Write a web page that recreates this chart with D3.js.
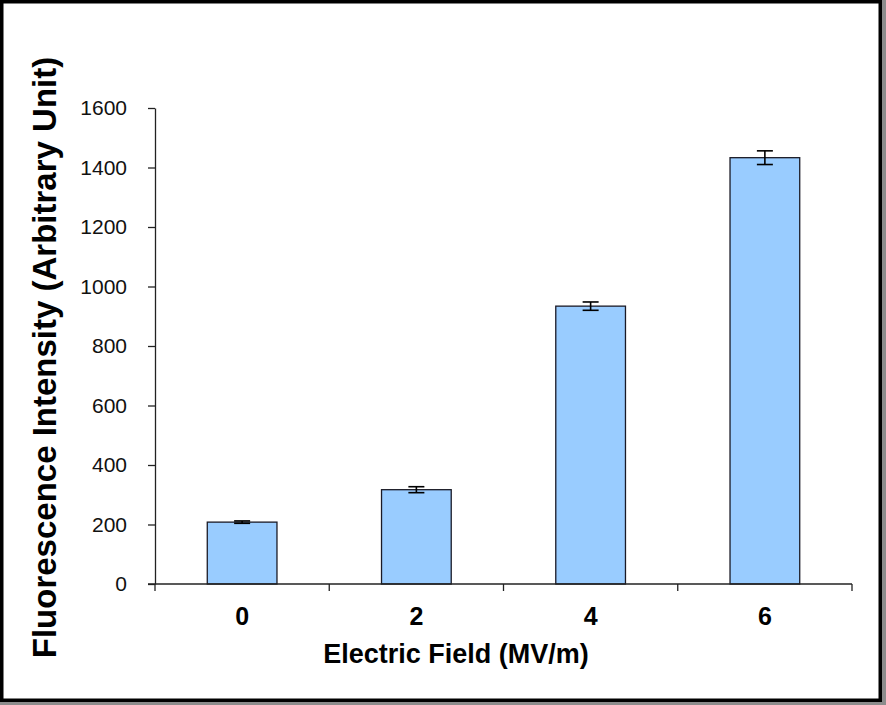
<!DOCTYPE html>
<html>
<head>
<meta charset="utf-8">
<script src="https://cdn.jsdelivr.net/npm/d3@7"></script>
<style>
  html, body { margin: 0; padding: 0; background: #fff; }
  svg { display: block; }
  text { font-family: "Liberation Sans", Arial, sans-serif; }
</style>
</head>
<body>
<svg id="chart" width="886" height="705"></svg>
<script>
const categories = ["0", "2", "4", "6"];
const values = [208, 317, 934, 1433];
const errors = [4, 10, 14, 23];
const yTicks = [0, 200, 400, 600, 800, 1000, 1200, 1400, 1600];
const xTitle = "Electric Field (MV/m)";
const yTitle = "Fluorescence Intensity (Arbitrary Unit)";

(function () {
const svg = d3.select("#chart");
const W = 886, H = 705;
const pL = 155, pR = 852, pT = 108, pB = 584;

// frame
svg.append("rect").attr("x", 0).attr("y", 0).attr("width", W).attr("height", H).attr("fill", "#8c8c8c");
svg.append("rect").attr("x", 0).attr("y", 0).attr("width", 882).attr("height", 702).attr("fill", "#fff");
svg.append("rect").attr("x", 1.75).attr("y", 1.75).attr("width", 878.5).attr("height", 698.5)
  .attr("fill", "none").attr("stroke", "#000").attr("stroke-width", 3.5);

const x = d3.scaleBand().domain(categories).range([pL, pR]).padding(0);
const y = d3.scaleLinear().domain([0, 1600]).range([pB, pT]);

const barW = x.bandwidth() * 0.4;

// bars
svg.append("g").selectAll("rect").data(values).join("rect")
  .attr("x", (d, i) => x(categories[i]) + x.bandwidth() / 2 - barW / 2)
  .attr("y", d => y(d))
  .attr("width", barW)
  .attr("height", d => y(0) - y(d))
  .attr("fill", "#99CCFF")
  .attr("stroke", "#1a1a26")
  .attr("stroke-width", 1.3);

// error bars
const eg = svg.append("g").attr("stroke", "#000").attr("stroke-width", 1.6);
values.forEach((v, i) => {
  const cx = x(categories[i]) + x.bandwidth() / 2;
  const y1 = y(v + errors[i]), y2 = y(v - errors[i]);
  eg.append("line").attr("x1", cx).attr("x2", cx).attr("y1", y1).attr("y2", y2);
  eg.append("line").attr("x1", cx - 8).attr("x2", cx + 8).attr("y1", y1).attr("y2", y1);
  eg.append("line").attr("x1", cx - 8).attr("x2", cx + 8).attr("y1", y2).attr("y2", y2);
});

// y axis
const yAxis = svg.append("g").attr("transform", `translate(${pL},0)`)
  .call(d3.axisLeft(y).tickValues(yTicks).tickFormat(d3.format("d")).tickSize(7).tickSizeOuter(0).tickPadding(21));
yAxis.select(".domain").attr("stroke", "#222").attr("stroke-width", 1.3);
yAxis.selectAll(".tick line").attr("stroke", "#222").attr("stroke-width", 1.3);
yAxis.selectAll(".tick text").attr("font-size", 21).attr("fill", "#111")
  .style("font-family", "'Liberation Sans', Arial, sans-serif");

// x axis (labels)
const xAxis = svg.append("g").attr("transform", `translate(0,${pB})`)
  .call(d3.axisBottom(x).tickSize(0).tickPadding(23));
xAxis.select(".domain").remove();
xAxis.selectAll(".tick text").attr("font-size", 25).attr("font-weight", "bold").attr("fill", "#000")
  .style("font-family", "'Liberation Sans', Arial, sans-serif");

// x axis line and boundary ticks
const xb = svg.append("g").attr("stroke", "#222").attr("stroke-width", 1.3);
xb.append("line").attr("x1", pL - 7).attr("x2", pR).attr("y1", pB).attr("y2", pB);
const bounds = categories.map(c => x(c)).concat([x.range()[1]]);
xb.selectAll("line.b").data(bounds).join("line").attr("class", "b")
  .attr("x1", d => d).attr("x2", d => d).attr("y1", pB).attr("y2", pB + 7);

// titles
svg.append("text").attr("x", 456).attr("y", 663).attr("text-anchor", "middle")
  .attr("font-size", 27).attr("font-weight", "bold").attr("fill", "#000").text(xTitle);
svg.append("text").attr("transform", "translate(56,357.5) rotate(-90)").attr("text-anchor", "middle")
  .attr("font-size", 33).attr("font-weight", "bold").attr("fill", "#000").text(yTitle);
})();
</script>
</body>
</html>
